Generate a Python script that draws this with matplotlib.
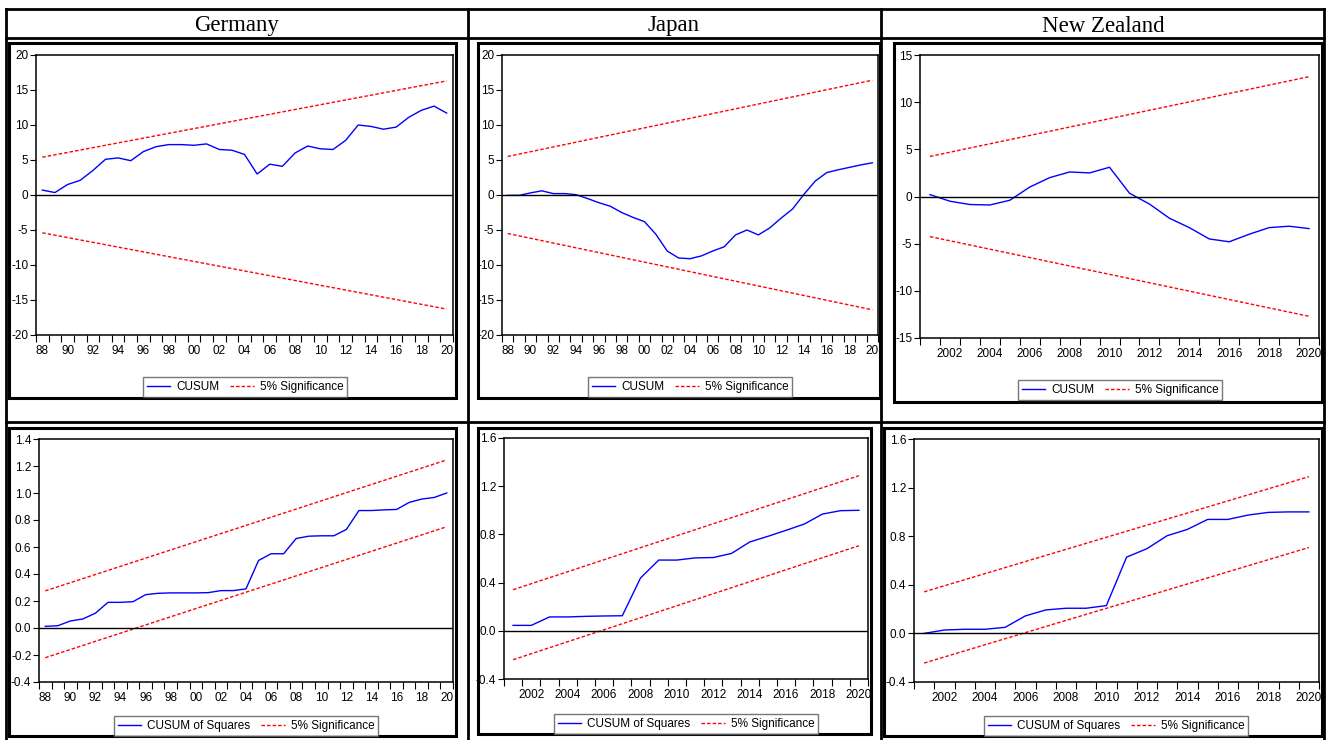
import numpy as np
import matplotlib
matplotlib.use("Agg")
import matplotlib.pyplot as plt
from matplotlib.patches import Rectangle
from matplotlib.ticker import FixedLocator, FixedFormatter, FormatStrFormatter

plt.rcParams["font.family"] = ["Liberation Sans", "DejaVu Sans"]
plt.rcParams["axes.unicode_minus"] = False

W, H = 1326, 740

# ---- data ----
countries = ["Germany", "Japan", "New Zealand"]

years_de = np.arange(1988, 2021)
years_jp_cusum = np.arange(1988, 2021)
years_recent = np.arange(2001, 2021)

cusum_de = [0.7, 0.35, 1.5, 2.1, 3.5, 5.1, 5.3, 4.9, 6.2, 6.9, 7.2, 7.2, 7.1, 7.3, 6.5, 6.4,
            5.8, 3.0, 4.4, 4.1, 6.0, 7.0, 6.6, 6.5, 7.8, 10.0, 9.8, 9.4, 9.7, 11.1, 12.1, 12.7, 11.7]
cusum_jp = [-0.05, -0.05, 0.3, 0.6, 0.2, 0.2, 0.05, -0.5, -1.1, -1.6, -2.5, -3.2, -3.8, -5.6,
            -8.0, -9.0, -9.1, -8.7, -8.0, -7.4, -5.7, -5.0, -5.7, -4.7, -3.3, -2.0, 0.1, 2.0,
            3.2, 3.6, 3.95, 4.3, 4.6]
cusum_nz = [0.2, -0.5, -0.85, -0.9, -0.4, 1.0, 2.0, 2.6, 2.5, 3.1, 0.35, -0.8, -2.3, -3.3,
            -4.5, -4.8, -4.0, -3.3, -3.15, -3.4]

cusumsq_de = [0.012, 0.017, 0.052, 0.067, 0.11, 0.19, 0.19, 0.195, 0.247, 0.257, 0.26, 0.26,
              0.26, 0.262, 0.277, 0.277, 0.29, 0.50, 0.55, 0.55, 0.663, 0.68, 0.683, 0.683,
              0.73, 0.87, 0.87, 0.875, 0.878, 0.93, 0.955, 0.967, 1.0]
cusumsq_jp = [0.045, 0.045, 0.115, 0.115, 0.12, 0.123, 0.125, 0.438, 0.587, 0.587, 0.605,
              0.608, 0.642, 0.737, 0.784, 0.834, 0.886, 0.969, 0.997, 1.0]
cusumsq_nz = [0.0, 0.028, 0.034, 0.034, 0.05, 0.144, 0.193, 0.207, 0.207, 0.229, 0.628, 0.697,
              0.804, 0.856, 0.938, 0.938, 0.974, 0.996, 1.0, 1.0]

# 5% significance bands: (start, end) of upper and lower lines
band_cusum_de = [(5.4, 16.3), (-5.4, -16.3)]
band_cusum_jp = [(5.5, 16.4), (-5.5, -16.4)]
band_cusum_nz = [(4.25, 12.7), (-4.25, -12.7)]
band_sq_de = [(0.275, 1.245), (-0.22, 0.75)]
band_sq_jp = [(0.341, 1.287), (-0.24, 0.706)]
band_sq_nz = [(0.342, 1.29), (-0.244, 0.707)]

yticks_cusum20 = [-20, -15, -10, -5, 0, 5, 10, 15, 20]
yticks_cusum15 = [-15, -10, -5, 0, 5, 10, 15]
yticks_sq_de = [-0.4, -0.2, 0.0, 0.2, 0.4, 0.6, 0.8, 1.0, 1.2, 1.4]
yticks_sq = [-0.4, 0.0, 0.4, 0.8, 1.2, 1.6]


def px_rect(x0, y0, x1, y1):
    return [x0 / W, 1 - y1 / H, (x1 - x0) / W, (y1 - y0) / H]


fig = plt.figure(figsize=(W / 100, H / 100), dpi=100)

# background layer for the table grid and EViews frames
bg = fig.add_axes([0, 0, 1, 1])
bg.set_xlim(0, W)
bg.set_ylim(H, 0)
bg.axis("off")

lw_table = 2.0
for y in [9, 38, 422]:
    bg.plot([6, 1324], [y, y], color="black", lw=lw_table)
for x in [6, 468, 881, 1324]:
    bg.plot([x, x], [9, 740], color="black", lw=lw_table)

for name, cx in zip(countries, [237, 674, 1103]):
    bg.text(cx, 31.5, name, ha="center", va="baseline", fontsize=16.5,
            family=["Liberation Serif", "DejaVu Serif"])

frames = [(9, 43, 456, 398), (478, 43, 880, 398), (894, 43, 1322, 402),
          (9, 428, 456, 736), (478, 428, 871, 734), (884, 428, 1322, 736)]
for x0, y0, x1, y1 in frames:
    bg.add_patch(Rectangle((x0, y0), x1 - x0, y1 - y0, fill=False, ec="black", lw=2.2))


def panel(rect, years, values, band, yticks, ylim, legend_label, legend_center,
          short_labels, yfmt=None):
    ax = fig.add_axes(px_rect(*rect))
    ax.plot(years, values, color="#0000ff", lw=1.0, label=legend_label)
    (u0, u1), (l0, l1) = band
    ends = [years[0], years[-1]]
    ax.plot(ends, [u0, u1], color="#ff0000", lw=1.0, ls=(0, (2.5, 1.5)), label="5% Significance")
    ax.plot(ends, [l0, l1], color="#ff0000", lw=1.0, ls=(0, (2.5, 1.5)))
    ax.axhline(0, color="black", lw=1.0)
    ax.set_xlim(years[0] - 0.5, years[-1] + 0.5)
    ax.set_ylim(*ylim)

    ax.yaxis.set_major_locator(FixedLocator(yticks))
    if yfmt:
        ax.yaxis.set_major_formatter(FormatStrFormatter(yfmt))
    ax.tick_params(axis="y", direction="out", length=4, width=0.8, pad=1.5, labelsize=8.5)

    centers = [y for y in years if y % 2 == 0]
    if short_labels:
        labels = ["%02d" % (y % 100) for y in centers]
    else:
        labels = [str(y) for y in centers]
    ax.xaxis.set_major_locator(FixedLocator(centers))
    ax.xaxis.set_major_formatter(FixedFormatter(labels))
    ax.xaxis.set_minor_locator(FixedLocator(np.arange(years[0] - 0.5, years[-1] + 1.0, 1.0)))
    ax.tick_params(axis="x", which="major", length=0, pad=7, labelsize=8.5)
    ax.tick_params(axis="x", which="minor", direction="out", length=5, width=0.8)
    for s in ax.spines.values():
        s.set_linewidth(1.1)

    leg = ax.legend(loc="center", bbox_to_anchor=legend_center, bbox_transform=bg.transData,
                    ncol=2, fontsize=8.5, frameon=True, fancybox=False, handlelength=2.0,
                    handletextpad=0.5, columnspacing=0.9, borderpad=0.35)
    leg.get_frame().set_edgecolor("#555555")
    leg.get_frame().set_linewidth(1.0)
    return ax


panel((36, 55, 453, 335), years_de, cusum_de, band_cusum_de, yticks_cusum20, (-20, 20),
      "CUSUM", (245, 387), True)
panel((502, 55, 878, 335), years_jp_cusum, cusum_jp, band_cusum_jp, yticks_cusum20, (-20, 20),
      "CUSUM", (690, 387), True)
panel((920, 55, 1319, 338), years_recent, cusum_nz, band_cusum_nz, yticks_cusum15, (-15, 15),
      "CUSUM", (1120, 390), False)

panel((39, 439, 453, 682), years_de, cusumsq_de, band_sq_de, yticks_sq_de, (-0.4, 1.4),
      "CUSUM of Squares", (246, 726), True, "%.1f")
panel((504, 438, 868, 679), years_recent, cusumsq_jp, band_sq_jp, yticks_sq, (-0.4, 1.6),
      "CUSUM of Squares", (686, 724), False, "%.1f")
panel((914, 439, 1319, 682), years_recent, cusumsq_nz, band_sq_nz, yticks_sq, (-0.4, 1.6),
      "CUSUM of Squares", (1116, 726), False, "%.1f")

fig.savefig("out.png", dpi=100)
